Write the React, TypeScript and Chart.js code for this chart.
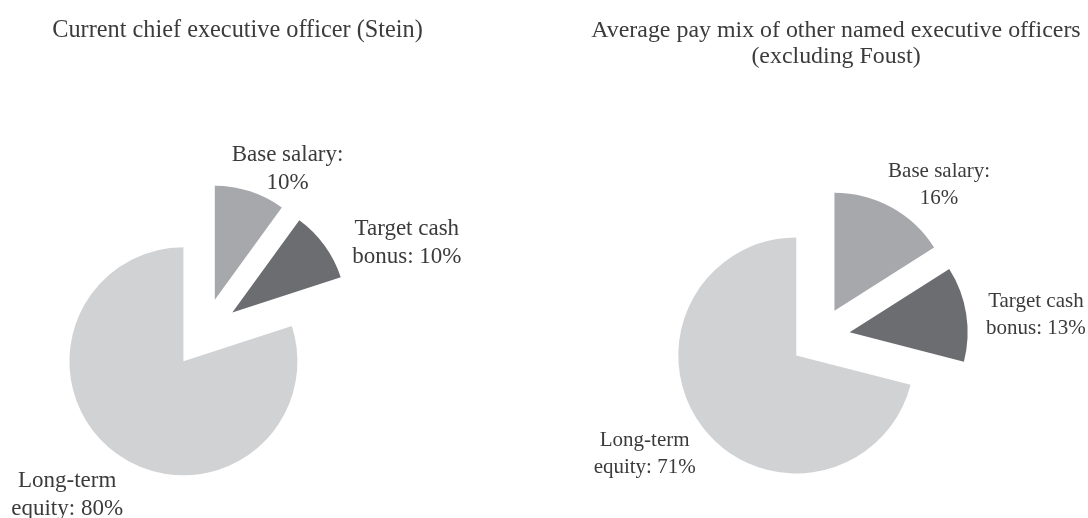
import React, { useEffect, useRef } from "react";
import { Chart, registerables } from "chart.js";

Chart.register(...registerables);

// ---- data ----
const categories = ["Base salary", "Target cash bonus", "Long-term equity"];
const labelLines = [["Base salary:", ""], ["Target cash", "bonus: "], ["Long-term", "equity: "]];
const steinValues = [10, 10, 80];
const otherNeoValues = [16, 13, 71];
const steinTitle = ["Current chief executive officer (Stein)"];
const otherNeoTitle = ["Average pay mix of other named executive officers", "(excluding Foust)"];

// ---- styles ----
const sliceColors = ["#a7a8ab", "#6c6d71", "#d1d2d4"];
const textColor = "#3b3b3b";
const serif = "'Liberation Serif', 'Times New Roman', serif";

const explodePlugin = {
  id: "explode",
  afterDatasetsUpdate(chart: any, _args: any, opts: any) {
    const d = opts.distance || 0;
    const meta = chart.getDatasetMeta(0);
    meta.data.forEach((arc: any) => {
      const mid = (arc.startAngle + arc.endAngle) / 2;
      arc.x += Math.cos(mid) * d;
      arc.y += Math.sin(mid) * d;
    });
  },
};

const sliceLabelPlugin = {
  id: "sliceLabels",
  afterDatasetsDraw(chart: any, _args: any, opts: any) {
    const { ctx, chartArea } = chart;
    const cx = (chartArea.left + chartArea.right) / 2;
    const cy = (chartArea.top + chartArea.bottom) / 2;
    const meta = chart.getDatasetMeta(0);
    const values = chart.data.datasets[0].data;
    ctx.save();
    ctx.font = `${opts.size}px ${serif}`;
    ctx.fillStyle = textColor;
    ctx.textAlign = "center";
    ctx.textBaseline = "middle";
    meta.data.forEach((arc: any, i: number) => {
      const ang = (arc.startAngle + arc.endAngle) / 2 + (opts.shifts[i] * Math.PI) / 180;
      const x = cx + Math.cos(ang) * opts.dists[i];
      const y = cy + Math.sin(ang) * opts.dists[i];
      const lines = [labelLines[i][0], labelLines[i][1] + values[i] + "%"];
      lines.forEach((ln: string, j: number) => {
        ctx.fillText(ln, x, y + (j - (lines.length - 1) / 2) * opts.lineHeight);
      });
    });
    ctx.restore();
  },
};

type PieProps = {
  values: number[];
  left: number;
  width: number;
  radius: number;
  explode: number;
  padRight: number;
  padTop: number;
  labelSize: number;
  labelLineHeight: number;
  dists: number[];
  shifts: number[];
};

function ExplodedPie(p: PieProps) {
  const ref = useRef<HTMLCanvasElement>(null);
  useEffect(() => {
    if (!ref.current) return;
    const chart = new Chart(ref.current, {
      type: "pie",
      data: {
        labels: categories,
        datasets: [
          {
            data: p.values,
            backgroundColor: sliceColors,
            borderWidth: 0,
            radius: p.radius,
          } as any,
        ],
      },
      options: {
        responsive: false,
        animation: false,
        events: [],
        layout: { padding: { left: 0, right: p.padRight, top: p.padTop, bottom: 0 } },
        plugins: {
          legend: { display: false },
          tooltip: { enabled: false },
          title: { display: false },
          explode: { distance: p.explode },
          sliceLabels: {
            size: p.labelSize,
            lineHeight: p.labelLineHeight,
            dists: p.dists,
            shifts: p.shifts,
          },
        } as any,
      },
      plugins: [explodePlugin, sliceLabelPlugin],
    });
    return () => chart.destroy();
  }, []);
  return (
    <canvas
      ref={ref}
      width={p.width}
      height={518}
      style={{ position: "absolute", left: p.left, top: 0, width: p.width, height: 518 }}
    />
  );
}

function ChartTitle({ lines, center, top, size, lineHeight }: { lines: string[]; center: number; top: number; size: number; lineHeight: number }) {
  return (
    <div
      style={{
        position: "absolute",
        left: center - 300,
        width: 600,
        top,
        textAlign: "center",
        fontFamily: serif,
        fontSize: size,
        lineHeight: `${lineHeight}px`,
        color: textColor,
        whiteSpace: "nowrap",
      }}
    >
      {lines.map((l, i) => (
        <div key={i}>{l}</div>
      ))}
    </div>
  );
}

export default function App() {
  return (
    <div style={{ position: "absolute", left: 0, top: 0, width: 1088, height: 518, background: "#fff", overflow: "hidden" }}>
      <ExplodedPie
        values={steinValues}
        left={0}
        width={475}
        radius={114}
        explode={35}
        padRight={67}
        padTop={148}
        labelSize={23}
        labelLineHeight={28}
        dists={[184, 222, 212]}
        shifts={[9, 12, 4.2]}
      />
      <ExplodedPie
        values={otherNeoValues}
        left={586}
        width={502}
        radius={118}
        explode={30}
        padRight={34}
        padTop={156}
        labelSize={21}
        labelLineHeight={27}
        dists={[193, 217, 211]}
        shifts={[9.3, 3.2, 4]}
      />
      <ChartTitle lines={steinTitle} center={237.5} top={14.5} size={24.3} lineHeight={27} />
      <ChartTitle lines={otherNeoTitle} center={836} top={15.5} size={23.9} lineHeight={26} />
    </div>
  );
}
